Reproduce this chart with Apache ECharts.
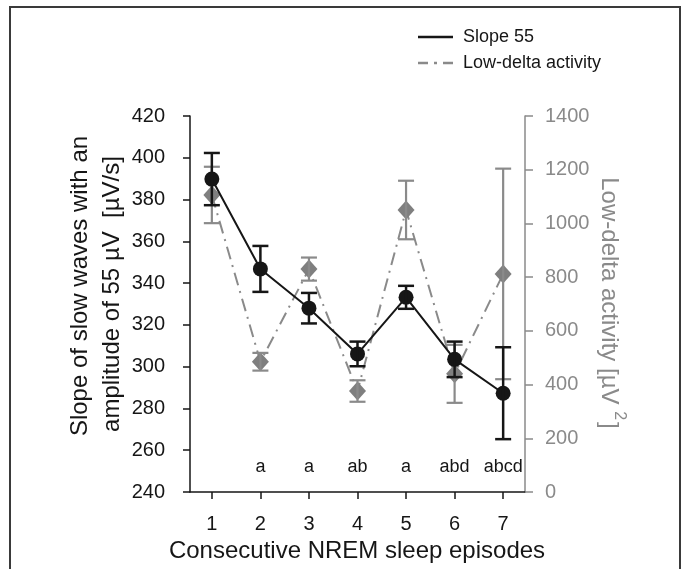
<!DOCTYPE html>
<html>
<head>
<meta charset="utf-8">
<script src="https://cdn.jsdelivr.net/npm/echarts@6/dist/echarts.min.js"></script>
<style>
  html, body { margin: 0; padding: 0; background: #fff; }
  #chart { width: 683px; height: 569px; }
</style>
</head>
<body>
<div id="chart"></div>
<script>
// Consecutive NREM sleep episodes
const episodes = [1, 2, 3, 4, 5, 6, 7];
// Slope of slow waves (55 µV amplitude), mean and error, µV/s
const slopeMean = [389.8, 346.8, 328.0, 306.1, 333.2, 303.5, 287.3];
const slopeErr = [12.5, 11.0, 7.3, 5.9, 5.5, 8.5, 22.0];
// Low-delta activity, mean and error, µV²
const deltaMean = [1106, 485, 830, 376, 1050, 440, 812];
const deltaErr = [105, 33, 43, 40, 109, 108, 392];
// Significance letters per episode
const sigLabels = ['', 'a', 'a', 'ab', 'a', 'abd', 'abcd'];
const sigLevel = 252;
// Axis ranges
const leftRange = [240, 420, 20];
const rightRange = [0, 1400, 200];

const FONT = '"Liberation Sans", Arial, sans-serif';
const BLACK = '#161616';
const GREY = '#8a8a8a';
const DIAMOND = '#7f7f7f';

const chart = echarts.init(document.getElementById('chart'), null, { renderer: 'canvas' });

// vertical whisker with caps at mean ± error
function errorBars(color, width, capW) {
  return function (params, api) {
    const x = api.value(0);
    const lo = api.coord([x, api.value(1) - api.value(2)]);
    const hi = api.coord([x, api.value(1) + api.value(2)]);
    const style = { stroke: color, lineWidth: width, fill: null };
    return {
      type: 'group',
      children: [
        { type: 'line', shape: { x1: lo[0], y1: lo[1], x2: hi[0], y2: hi[1] }, style },
        { type: 'line', shape: { x1: lo[0] - capW / 2, y1: lo[1], x2: lo[0] + capW / 2, y2: lo[1] }, style },
        { type: 'line', shape: { x1: hi[0] - capW / 2, y1: hi[1], x2: hi[0] + capW / 2, y2: hi[1] }, style }
      ]
    };
  };
}

const option = {
  animation: false,
  backgroundColor: '#fff',
  textStyle: { fontFamily: FONT },
  grid: { left: 190, right: 158, top: 116, bottom: 77 },
  xAxis: {
    type: 'value',
    min: 0.55,
    max: 7.45,
    splitLine: { show: false },
    axisLine: { lineStyle: { color: BLACK, width: 1.5 } },
    axisTick: { customValues: episodes, length: 7, lineStyle: { color: BLACK, width: 1.5 } },
    axisLabel: { customValues: episodes, margin: 22, color: BLACK, fontSize: 20, fontFamily: FONT }
  },
  yAxis: [
    {
      type: 'value',
      min: leftRange[0], max: leftRange[1], interval: leftRange[2],
      splitLine: { show: false },
      axisLine: { show: true, lineStyle: { color: BLACK, width: 1.5 } },
      axisTick: { show: true, length: 7, lineStyle: { color: BLACK, width: 1.5 } },
      axisLabel: { margin: 25, color: BLACK, fontSize: 20, fontFamily: FONT }
    },
    {
      type: 'value',
      position: 'right',
      min: rightRange[0], max: rightRange[1], interval: rightRange[2],
      splitLine: { show: false },
      axisLine: { show: true, lineStyle: { color: GREY, width: 1.5 } },
      axisTick: { show: true, length: 8, lineStyle: { color: GREY, width: 1.5 } },
      axisLabel: { margin: 20, color: GREY, fontSize: 20, fontFamily: FONT,
                   formatter: v => String(v) }
    }
  ],
  series: [
    {
      name: 'Low-delta activity',
      type: 'line',
      yAxisIndex: 1,
      data: episodes.map((e, i) => [e, deltaMean[i]]),
      symbol: 'diamond',
      symbolSize: [17, 19],
      itemStyle: { color: DIAMOND },
      lineStyle: { color: GREY, width: 2, type: [13, 6, 2, 6] },
      z: 2
    },
    {
      type: 'custom',
      yAxisIndex: 1,
      data: episodes.map((e, i) => [e, deltaMean[i], deltaErr[i]]),
      renderItem: errorBars(GREY, 2.2, 16),
      z: 3
    },
    {
      name: 'Slope 55',
      type: 'line',
      yAxisIndex: 0,
      data: episodes.map((e, i) => [e, slopeMean[i]]),
      symbol: 'circle',
      symbolSize: 15,
      itemStyle: { color: BLACK },
      lineStyle: { color: BLACK, width: 2 },
      z: 5
    },
    {
      type: 'custom',
      yAxisIndex: 0,
      data: episodes.map((e, i) => [e, slopeMean[i], slopeErr[i]]),
      renderItem: errorBars(BLACK, 2.5, 16),
      z: 6
    },
    {
      type: 'scatter',
      yAxisIndex: 0,
      symbolSize: 0,
      silent: true,
      itemStyle: { opacity: 1 },
      data: episodes.map((e, i) => ({ value: [e, sigLevel], label: { formatter: sigLabels[i] } })),
      label: { show: true, position: [0, 0], align: 'center', verticalAlign: 'middle',
               color: BLACK, fontSize: 18, fontFamily: FONT, textBorderWidth: 0 },
      z: 7
    }
  ],
  graphic: [
    // frame
    { type: 'rect', shape: { x: 10, y: 7, width: 670, height: 600 },
      style: { fill: null, stroke: '#3a3a3a', lineWidth: 2 }, silent: true },
    // legend
    { type: 'line', shape: { x1: 418, y1: 37, x2: 453, y2: 37 },
      style: { stroke: BLACK, lineWidth: 2.5 } },
    { type: 'text', x: 463, y: 37,
      style: { text: 'Slope 55', fill: BLACK, font: '18px ' + FONT, textVerticalAlign: 'middle' } },
    { type: 'line', shape: { x1: 418, y1: 63, x2: 453, y2: 63 },
      style: { stroke: GREY, lineWidth: 2.5, lineDash: [10, 6, 3, 6] } },
    { type: 'text', x: 463, y: 63,
      style: { text: 'Low-delta activity', fill: BLACK, font: '18px ' + FONT, textVerticalAlign: 'middle' } },
    // left axis title
    { type: 'text', x: 80, y: 286, rotation: Math.PI / 2,
      style: { text: 'Slope of slow waves with an', fill: BLACK, font: '24px ' + FONT,
               textAlign: 'center', textVerticalAlign: 'middle' } },
    { type: 'text', x: 112, y: 294, rotation: Math.PI / 2,
      style: { text: 'amplitude of 55 µV  [µV/s]', fill: BLACK, font: '24px ' + FONT,
               textAlign: 'center', textVerticalAlign: 'middle' } },
    // right axis title
    { type: 'text', x: 612, y: 303, rotation: -Math.PI / 2,
      style: {
        text: '{a|Low-delta activity [µV }{b|2}{a|]}',
        textAlign: 'center', textVerticalAlign: 'middle',
        rich: {
          a: { fill: GREY, fontSize: 24, fontFamily: FONT, lineHeight: 30, verticalAlign: 'bottom' },
          b: { fill: GREY, fontSize: 16, fontFamily: FONT, lineHeight: 30, verticalAlign: 'top', padding: [0, 2, 0, 0] }
        }
      } },
    // x axis title
    { type: 'text', x: 357, y: 551,
      style: { text: 'Consecutive NREM sleep episodes', fill: BLACK, font: '24px ' + FONT,
               textAlign: 'center', textVerticalAlign: 'middle' } }
  ]
};

chart.setOption(option);
</script>
</body>
</html>
